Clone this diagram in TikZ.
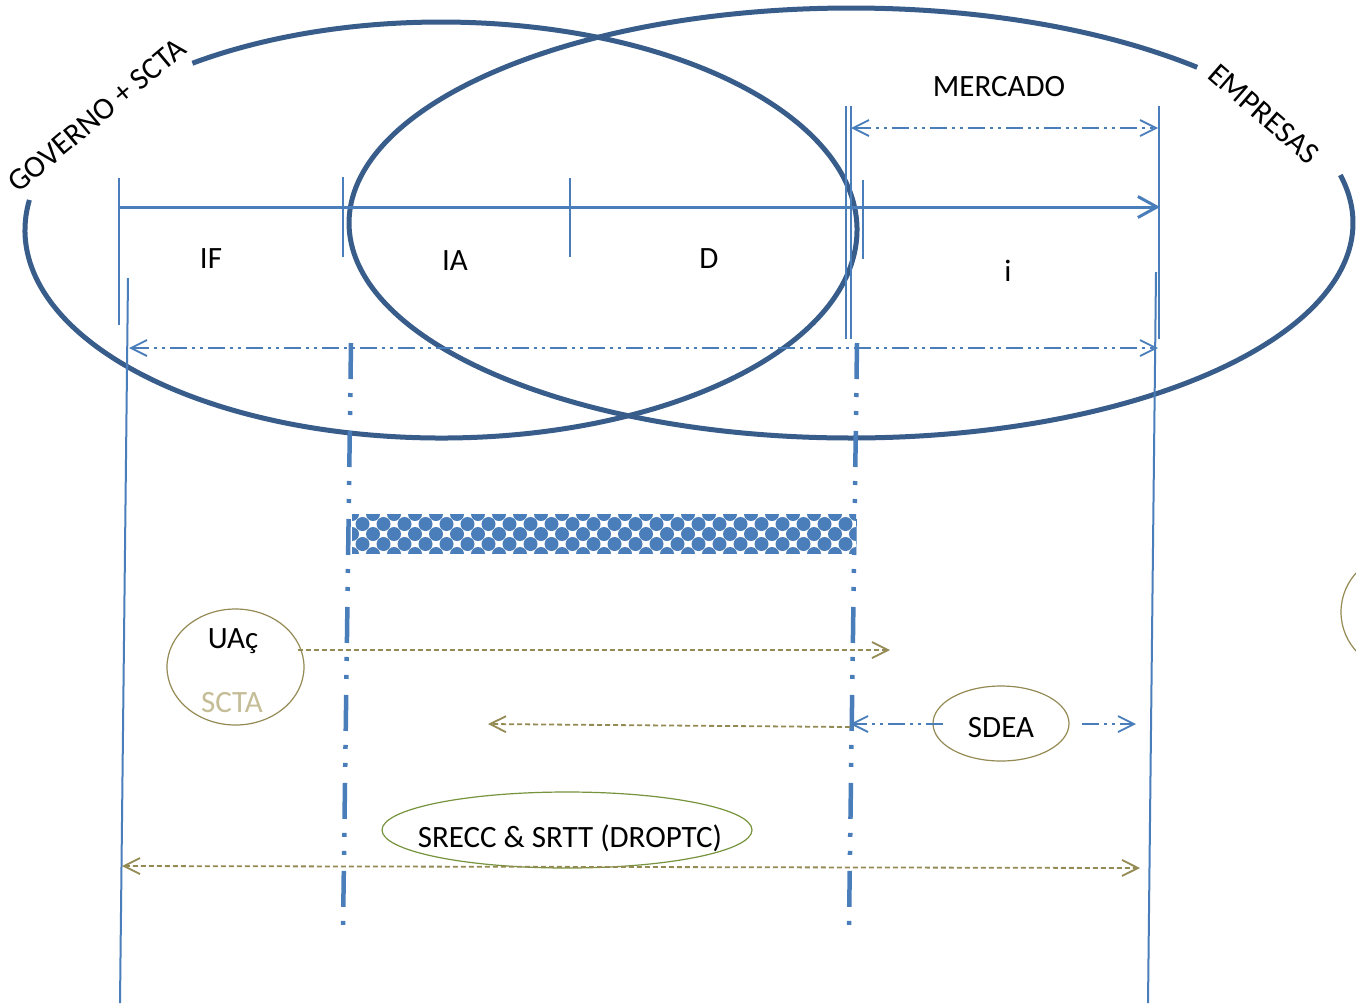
\documentclass[tikz,border=0pt]{standalone}
\usepackage{fontspec}
\setmainfont{Carlito}
\usetikzlibrary{arrows.meta,shapes.geometric}
\definecolor{ellblue}{HTML}{385D8A}
\definecolor{lineblue}{HTML}{4A7EBB}
\definecolor{oliveline}{HTML}{948A54}
\definecolor{tanc}{HTML}{C4BD97}
\definecolor{ogreen}{HTML}{77933C}
\tikzset{
  bigell/.style={draw=ellblue, line width=5pt},
  tickline/.style={draw=lineblue, line width=2pt},
  axisline/.style={draw=lineblue, line width=3pt, -{Straight Barb[length=19pt,width=21pt]}},
  ddot/.style={draw=lineblue, line width=1.8pt, dash pattern=on 17pt off 5pt on 3pt off 5pt on 3pt off 5pt},
  vdash/.style={draw=lineblue, line width=4.5pt, dash pattern=on 36pt off 14pt on 4pt off 14pt on 4pt off 16pt},
  odash/.style={draw=oliveline, line width=1.8pt, dash pattern=on 5pt off 3pt},
  bbarb/.style={arrows={Straight Barb[length=16pt,width=16pt]-Straight Barb[length=16pt,width=16pt]}},
  rbarb/.style={arrows={-Straight Barb[length=16pt,width=16pt]}},
  txt/.style={font=\fontsize{31}{37}\selectfont, inner sep=0pt, anchor=base},
  smallell/.style={draw=oliveline, line width=1.2pt, ellipse, inner sep=0pt},
}
\begin{document}
\begin{tikzpicture}[x=1pt,y=1pt]
\useasboundingbox[fill=white] (0,0) rectangle (1356,-1005);

% big ellipses with gaps
\draw[bigell] ([shift={(171.7:416pt and 208pt)}]441,-230) arc[start angle=171.7, end angle=486.7, x radius=416pt, y radius=208pt];
\draw[bigell] ([shift={(46.4:502pt and 215pt)}]851,-223) arc[start angle=46.4, end angle=372.9, x radius=502pt, y radius=215pt];

\node[txt, anchor=center, rotate=40] (gov) at (97,-115) {GOVERNO + SCTA};
\node[txt, anchor=center, rotate=-41] (emp) at (1264,-114) {EMPRESAS};

% coordinates
\coordinate (axL) at (118,-207);
\coordinate (axR) at (1160,-207);
\coordinate (t1a) at (119,-178); \coordinate (t1b) at (119,-325);
\coordinate (t2a) at (343,-177); \coordinate (t2b) at (343,-257);
\coordinate (t3a) at (570,-178); \coordinate (t3b) at (570,-257);
\coordinate (t4a) at (863,-180); \coordinate (t4b) at (863,-259);
\coordinate (d1a) at (846,-106); \coordinate (d1b) at (846,-339);
\coordinate (d2a) at (851,-106); \coordinate (d2b) at (851,-339);
\coordinate (r1a) at (1159,-106); \coordinate (r1b) at (1159,-339);
\coordinate (longLa) at (128,-278); \coordinate (longLb) at (120,-1003);
\coordinate (longRa) at (1156,-272); \coordinate (longRb) at (1148,-1003);
\coordinate (mL) at (851,-128); \coordinate (mR) at (1158,-128);
\coordinate (wL) at (129,-348); \coordinate (wR) at (1158,-348);
\coordinate (v1a) at (351,-343); \coordinate (v1b) at (343,-930);
\coordinate (v2a) at (857,-343); \coordinate (v2b) at (849,-925);

\draw[tickline] (t1a) -- (t1b);
\draw[tickline] (t2a) -- (t2b);
\draw[tickline] (t3a) -- (t3b);
\draw[tickline] (t4a) -- (t4b);
\draw[tickline] (d1a) -- (d1b);
\draw[tickline] (d2a) -- (d2b);
\draw[tickline] (r1a) -- (r1b);
\draw[tickline] (longLa) -- (longLb);
\draw[tickline] (longRa) -- (longRb);
\draw[axisline] (axL) -- (axR);
\draw[ddot, bbarb] (mL) -- (mR);
\draw[ddot, bbarb] (wL) -- (wR);
\draw[vdash] (v1a) -- (v1b);
\draw[vdash] (v2a) -- (v2b);

% labels
\node[txt] (lif) at (211,-268) {IF};
\node[txt] (lia) at (455,-270) {IA};
\node[txt] (ld) at (709,-268) {D};
\node[txt] (li) at (1008,-281) {i};
\node[txt] (lmerc) at (999,-96) {MERCADO};

% patterned bar
\begin{scope}
\clip (352,-514) rectangle (856,-553);
\fill[white] (352,-514) rectangle (856,-553);
\foreach \i in {0,...,25} {
  \foreach \j in {0,...,4} {
    \pgfmathsetmacro{\xx}{352+21*\i+mod(\j,2)*10.5}
    \pgfmathsetmacro{\yy}{-514-10*\j}
    \fill[lineblue] (\xx,\yy) circle (7pt);
  }
}
\end{scope}
\node[draw=none, inner sep=0pt, minimum width=504pt, minimum height=39pt] (bar) at (604,-533.5) {};

% UAc circle
\node[smallell, minimum width=137pt, minimum height=116pt] (uac) at (235.5,-667) {};
\node[txt] (uact) at (233,-648) {UAç};
\node[txt, text=tanc] (scta) at (232,-712) {SCTA};
\coordinate (ua1) at (298,-650); \coordinate (ua2) at (890,-650);
\draw[odash, rbarb] (ua1) -- (ua2);

% left olive arrow
\coordinate (ol1) at (850,-727); \coordinate (ol2) at (488,-724);
\draw[odash, rbarb] (ol1) -- (ol2);

% SDEA
\node[smallell, minimum width=136pt, minimum height=75pt] (sdea) at (1001,-723.5) {};
\node[txt] (sdeat) at (1001,-737) {SDEA};
\coordinate (sl1) at (943,-724); \coordinate (sl2) at (850,-724);
\coordinate (sr1) at (1082,-724); \coordinate (sr2) at (1136,-724);
\draw[ddot, rbarb] (sl1) -- (sl2);
\draw[ddot, rbarb] (sr1) -- (sr2);

% SRECC
\node[draw=ogreen, line width=1.2pt, ellipse, minimum width=370pt, minimum height=76pt, inner sep=0pt] (srecc) at (567,-830) {};
\node[txt] (srecct) at (570,-847) {SRECC \& SRTT (DROPTC)};
\coordinate (b1) at (122,-866); \coordinate (b2) at (1140,-868);
\draw[odash, bbarb] (b1) -- (b2);

% partial circle at right edge
\begin{scope}
\clip (0,0) rectangle (1356,-1005);
\node[draw=oliveline, line width=1.2pt, circle, minimum size=116pt, inner sep=0pt] (edgec) at (1399,-612) {};
\end{scope}
\end{tikzpicture}
\end{document}
